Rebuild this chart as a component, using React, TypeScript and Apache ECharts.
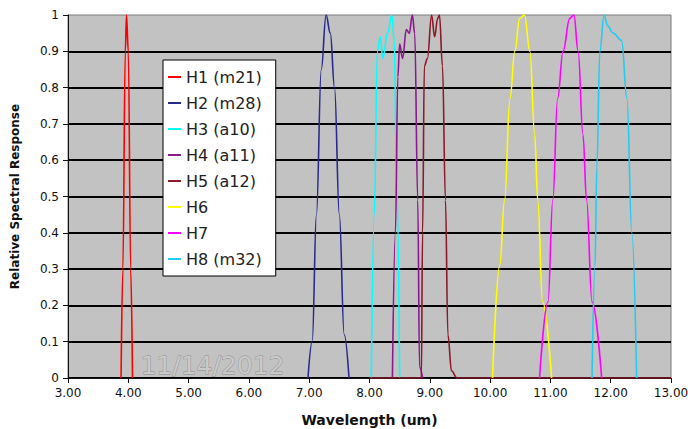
import React, { useEffect, useRef } from "react";
import * as echarts from "echarts";

const seriesNames = ["H1 (m21)", "H2 (m28)", "H3 (a10)", "H4 (a11)", "H5 (a12)", "H6", "H7", "H8 (m32)"];
const seriesColors = ["#ff0000", "#2a2a8c", "#00ffff", "#8a1a8a", "#8b1a2a", "#ffff00", "#ff00ff", "#22ccee"];

const h1Data = [[3.88, 0], [3.91, 0.3], [3.95, 0.9], [3.97, 1.0], [4.0, 0.9], [4.04, 0.3], [4.07, 0]];
const h2Data = [[6.98, 0], [7.05, 0.1], [7.12, 0.45], [7.2, 0.85], [7.28, 1.0], [7.35, 0.95], [7.42, 0.8], [7.5, 0.45], [7.58, 0.12], [7.66, 0]];
const h3Data = [[8.03, 0], [8.08, 0.45], [8.13, 0.9], [8.18, 0.94], [8.22, 0.88], [8.3, 0.95], [8.37, 1.0], [8.41, 0.93], [8.45, 0.55], [8.5, 0]];
const h4Data = [[8.38, 0], [8.43, 0.4], [8.47, 0.83], [8.5, 0.92], [8.55, 0.88], [8.61, 0.96], [8.66, 0.95], [8.71, 1.0], [8.75, 0.95], [8.8, 0.49], [8.83, 0.03], [8.88, 0]];
const h5Data = [[8.0, 0], [8.86, 0], [8.88, 0.4], [8.91, 0.86], [8.96, 0.88], [9.03, 1.0], [9.08, 0.94], [9.13, 0.99], [9.16, 1.0], [9.21, 0.86], [9.26, 0.49], [9.3, 0.12], [9.36, 0.02], [9.45, 0], [13.0, 0]];
const h6Data = [[10.04, 0], [10.16, 0.31], [10.24, 0.49], [10.33, 0.77], [10.41, 0.9], [10.49, 0.99], [10.57, 1.0], [10.66, 0.9], [10.74, 0.67], [10.79, 0.49], [10.87, 0.21], [11.02, 0]];
const h7Data = [[10.82, 0], [10.96, 0.21], [11.04, 0.49], [11.12, 0.77], [11.21, 0.9], [11.32, 0.99], [11.39, 1.0], [11.46, 0.9], [11.54, 0.67], [11.6, 0.49], [11.69, 0.21], [11.85, 0]];
const h8Data = [[11.69, 0], [11.74, 0.31], [11.77, 0.58], [11.82, 0.9], [11.89, 1.0], [11.95, 0.97], [12.04, 0.95], [12.18, 0.93], [12.27, 0.77], [12.35, 0.4], [12.43, 0]];

const allData = [h1Data, h2Data, h3Data, h4Data, h5Data, h6Data, h7Data, h8Data];
const watermarkText = "11/14/2012";

export default function App() {
  const ref = useRef<HTMLDivElement>(null);
  useEffect(() => {
    if (!ref.current) return;
    const chart = echarts.init(ref.current, null, { renderer: "svg" });
    const font = "DejaVu Sans";
    chart.setOption({
      animation: false,
      backgroundColor: "#ffffff",
      textStyle: { fontFamily: font },
      grid: {
        left: 68,
        right: 17,
        top: 15,
        bottom: 51,
        outerBoundsMode: "none",
        containLabel: false,
        show: true,
        backgroundColor: "#c2c2c2",
        borderColor: "#7a7a7a",
        borderWidth: 1,
      },
      legend: {
        orient: "vertical",
        left: 163,
        top: 60,
        backgroundColor: "#ffffff",
        borderColor: "#000000",
        borderWidth: 1,
        padding: [8, 14, 8, 5],
        itemGap: 8,
        icon: "rect",
        itemWidth: 13,
        itemHeight: 2,
        textStyle: { fontFamily: font, fontSize: 16, color: "#222", lineHeight: 18 },
        data: seriesNames,
      },
      xAxis: {
        type: "value",
        min: 3,
        max: 13,
        interval: 1,
        name: "Wavelength (um)",
        nameLocation: "middle",
        nameGap: 35,
        nameTextStyle: { fontFamily: font, fontSize: 14, fontWeight: "bold", color: "#111" },
        axisLine: { show: true, onZero: false, lineStyle: { color: "#111", width: 1 } },
        axisTick: { show: true, inside: false, length: 5, lineStyle: { color: "#111" } },
        axisLabel: {
          margin: 9,
          fontSize: 12,
          fontFamily: font,
          color: "#111",
          formatter: (v: number) => v.toFixed(2),
        },
        splitLine: { show: false },
      },
      yAxis: {
        type: "value",
        min: 0,
        max: 1,
        interval: 0.1,
        name: "Relative Spectral Response",
        nameLocation: "middle",
        nameGap: 47,
        nameTextStyle: { fontFamily: font, fontSize: 12, fontWeight: "bold", color: "#111" },
        axisLine: { show: true, lineStyle: { color: "#111", width: 1 } },
        axisTick: { show: true, inside: false, length: 5, lineStyle: { color: "#111" } },
        axisLabel: {
          margin: 9,
          fontSize: 12,
          fontFamily: font,
          color: "#111",
          formatter: (v: number) => String(Math.round(v * 10) / 10),
        },
        splitLine: { show: true, showMaxLine: false, lineStyle: { color: "#000", width: 2 } },
      },
      graphic: [
        {
          type: "text",
          left: 140,
          top: 353,
          z: 1,
          style: {
            text: watermarkText,
            fontFamily: font,
            fontSize: 25,
            fill: "#c9c9c9",
            stroke: "#8c8c8c",
            lineWidth: 0.8,
          },
        },
      ],
      series: allData.map((d, i) => ({
        name: seriesNames[i],
        type: "line",
        data: d,
        showSymbol: false,
        symbol: "none",
        smooth: 0.4,
        smoothMonotone: "x",
        clip: true,
        z: 3,
        lineStyle: { color: seriesColors[i], width: 1.6 },
        itemStyle: { color: seriesColors[i] },
      })),
    });
    return () => chart.dispose();
  }, []);
  return <div ref={ref} style={{ position: "fixed", left: 0, top: 0, width: 688, height: 429 }} />;
}
